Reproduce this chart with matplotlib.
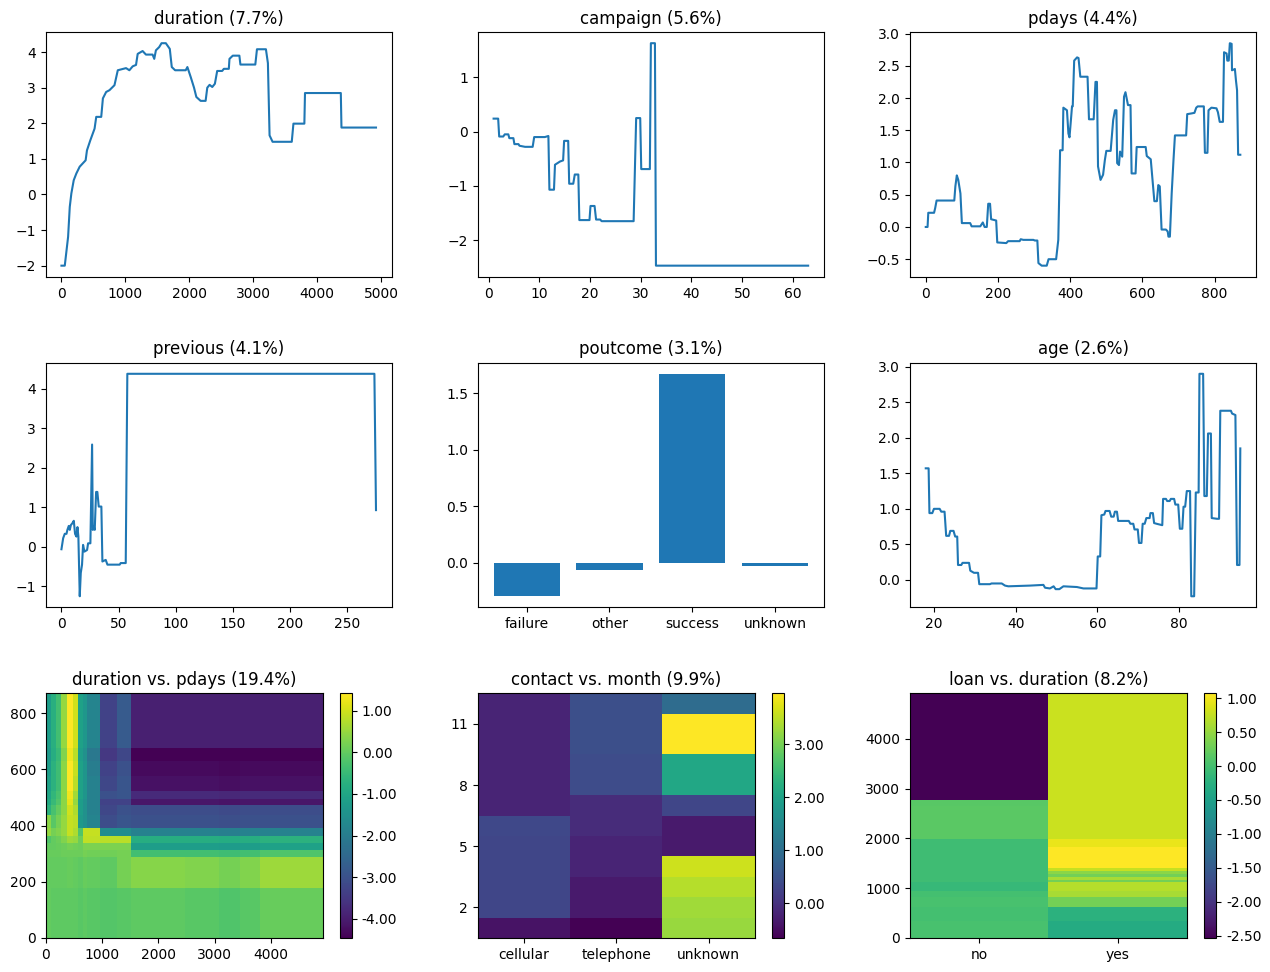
#Shape functions and pairwise interaction heatmaps for the bank marketing model.

import matplotlib
matplotlib.use("Agg")
import matplotlib.pyplot as plt
import numpy as np

# ---- single feature terms ----
dur_x = [0, 52, 104, 130, 155, 192, 233, 285, 378, 399, 451, 518, 544, 622, 648, 699, 751, 829, 881, 1010,
         1062, 1114, 1166, 1192, 1269, 1321, 1425, 1451, 1477, 1528, 1565, 1632, 1694, 1725, 1777, 1943, 1969,
         2021, 2073, 2109, 2176, 2254, 2280, 2316, 2358, 2399, 2435, 2513, 2539, 2617, 2627, 2679, 2782, 2798,
         3031, 3057, 3197, 3228, 3254, 3301, 3601, 3627, 3798, 3808, 4368, 4378, 4918]
dur_y = [-2.0, -2.0, -1.19, -0.35, 0.03, 0.4, 0.59, 0.78, 0.96, 1.24, 1.52, 1.85, 2.18, 2.18, 2.7, 2.88, 2.93,
         3.07, 3.49, 3.55, 3.49, 3.6, 3.64, 3.95, 4.03, 3.93, 3.93, 3.81, 4.05, 4.14, 4.25, 4.25, 4.09, 3.58, 3.49,
         3.49, 3.58, 3.3, 3.0, 2.74, 2.63, 2.63, 3.0, 3.08, 3.02, 3.11, 3.47, 3.47, 3.53, 3.53, 3.81, 3.9, 3.9,
         3.65, 3.65, 4.08, 4.08, 3.69, 1.66, 1.48, 1.48, 1.99, 1.99, 2.85, 2.85, 1.88, 1.88]

camp_x = [1, 1.9, 2.1, 2.9, 3.2, 3.9, 4.1, 4.9, 5.1, 5.9, 6.1, 7.2, 8.7, 9.0, 11.1, 11.8, 12.0, 12.9, 13.1, 14.1,
          14.7, 14.9, 15.7, 15.9, 16.7, 17.0, 17.7, 17.9, 19.9, 20.1, 20.9, 21.2, 22.0, 22.3, 28.6, 29.1, 29.9,
          30.1, 31.8, 32.0, 32.8, 33.0, 63]
camp_y = [0.24, 0.24, -0.09, -0.09, -0.05, -0.05, -0.12, -0.12, -0.23, -0.23, -0.26, -0.28, -0.28, -0.1, -0.1,
          -0.08, -1.07, -1.07, -0.61, -0.55, -0.53, -0.17, -0.17, -0.96, -0.96, -0.79, -0.79, -1.63, -1.63,
          -1.37, -1.37, -1.62, -1.62, -1.65, -1.65, 0.25, 0.25, -0.69, -0.69, 1.63, 1.63, -2.47, -2.47]

pdays_x = [0, 5, 7, 23, 26, 30, 79, 82, 86, 90, 96, 100, 123, 127, 151, 158, 163, 169, 173, 178,
           181, 195, 198, 223, 228, 260, 263, 270, 298, 302, 309, 312, 321, 335, 340, 361, 367, 372, 379, 381,
           391, 395, 398, 402, 405, 407, 411, 419, 423, 428, 448, 452, 465, 470, 474, 477, 484, 491, 496, 500,
           512, 519, 524, 528, 530, 535, 538, 544, 549, 553, 560, 567, 570, 581, 584, 609, 612, 623, 633, 640,
           644, 648, 653, 665, 670, 672, 676, 681, 686, 690, 721, 724, 735, 744, 749, 753, 770, 773, 780, 783,
           791, 805, 809, 814, 823, 826, 833, 835, 839, 842, 847, 848, 856, 859, 862, 865, 871]
pdays_y = [0.0, 0.0, 0.22, 0.22, 0.29, 0.41, 0.41, 0.63, 0.8, 0.73, 0.52, 0.06, 0.06, 0.01, 0.01, 0.07, 0.0, 0.0,
           0.36, 0.36, 0.12, 0.1, -0.24, -0.25, -0.22, -0.22, -0.19, -0.2, -0.2, -0.21, -0.21, -0.56, -0.6, -0.6,
           -0.5, -0.5, -0.2, 1.19, 1.19, 1.85, 1.81, 1.45, 1.39, 1.66, 1.87, 1.87, 2.58, 2.63, 2.62, 2.33, 2.33,
           1.67, 1.67, 2.25, 2.25, 0.94, 0.73, 0.81, 1.04, 1.18, 1.18, 1.66, 1.81, 1.81, 0.99, 0.96, 1.17, 1.09,
           2.02, 2.09, 1.89, 1.89, 0.83, 0.83, 1.24, 1.24, 1.1, 1.05, 0.4, 0.4, 0.65, 0.63, -0.04, -0.04, -0.07,
           -0.15, -0.15, 0.52, 1.04, 1.42, 1.42, 1.75, 1.76, 1.77, 1.85, 1.87, 1.87, 1.15, 1.15, 1.81, 1.85,
           1.84, 1.78, 1.63, 1.63, 2.71, 2.69, 2.58, 2.58, 2.85, 2.84, 2.43, 2.45, 2.27, 2.12, 1.12, 1.12]

prev_x = [0, 1.5, 2.9, 4.4, 5.2, 6.4, 7.3, 8.2, 9.6, 10.8, 11.9, 13.1, 14.0, 14.8, 16.0, 16.9, 18.0, 18.9, 20.1,
          22.4, 23.3, 25.3, 26.8, 27.4, 28.2, 29.1, 30.3, 31.4, 32.6, 34.9, 35.8, 38.7, 40.2, 50.9, 51.8, 56.2,
          57.6, 273.6, 275]
prev_y = [-0.06, 0.22, 0.33, 0.33, 0.43, 0.53, 0.43, 0.55, 0.6, 0.66, 0.33, 0.26, 0.5, 0.26, -1.25, -0.66, -0.45,
          0.05, -0.12, -0.08, 0.09, 0.09, 2.59, 0.43, 0.51, 0.43, 1.39, 1.39, 1.02, 1.02, -0.37, -0.33, -0.45,
          -0.45, -0.41, -0.41, 4.38, 4.38, 0.93]

pout_cats = ["failure", "other", "success", "unknown"]
pout_vals = [-0.295, -0.059, 1.674, -0.024]

age_x = [18, 18.7, 18.9, 19.6, 20, 21.4, 21.8, 22.6, 23.0, 23.7, 24.0, 24.8, 25.2, 25.7, 25.9, 26.7, 27.0, 28.6,
         28.9, 29.8, 30.8, 31.1, 33.7, 34.1, 36.6, 37.4, 38.2, 43.5, 46.8, 47.2, 48.4, 49.3, 49.8, 50.7, 51.7,
         55.0, 56.6, 59.8, 60.1, 60.7, 61.0, 61.7, 62.0, 63.0, 63.4, 64.0, 64.3, 64.8, 65.1, 67.7, 68.1, 68.8,
         69.1, 69.9, 70.2, 70.8, 71.1, 71.6, 72.0, 72.8, 73.0, 73.6, 73.9, 74.5, 75.9, 76.1, 76.8, 77.1, 77.7,
         78.0, 78.8, 79.1, 79.8, 80.2, 80.8, 81.1, 81.5, 81.9, 82.7, 83.0, 83.7, 84.1, 84.8, 85.0, 85.9, 86.2,
         86.8, 87.1, 87.8, 88.0, 89.3, 89.8, 90.1, 92.7, 93.0, 93.8, 94.2, 94.8, 95.0]
age_y = [1.57, 1.57, 0.94, 0.94, 1.0, 1.0, 0.96, 0.96, 0.62, 0.62, 0.69, 0.69, 0.61, 0.61, 0.21, 0.21, 0.24, 0.24,
         0.13, 0.1, 0.1, -0.06, -0.06, -0.05, -0.05, -0.08, -0.09, -0.08, -0.07, -0.11, -0.12, -0.09, -0.13,
         -0.13, -0.09, -0.1, -0.12, -0.12, 0.33, 0.33, 0.91, 0.92, 0.97, 0.97, 0.89, 0.89, 0.96, 0.96, 0.83,
         0.83, 0.79, 0.79, 0.71, 0.71, 0.52, 0.52, 0.79, 0.79, 0.87, 0.87, 0.94, 0.94, 0.8, 0.79, 0.77, 1.14,
         1.14, 1.11, 1.11, 1.14, 1.14, 1.06, 1.06, 0.72, 0.72, 1.03, 1.03, 1.25, 1.25, -0.23, -0.23, 1.23, 1.23,
         2.9, 2.9, 1.18, 1.18, 2.06, 2.06, 0.87, 0.86, 0.86, 2.38, 2.38, 2.34, 2.32, 0.21, 0.21, 1.85]

# ---- duration vs pdays (rows = pdays bins, bottom to top) ----
dp_x_edges = [0, 100, 190, 280, 380, 490, 580, 670, 730, 964, 1273, 1518, 2480, 3080, 3460, 3800, 4918]
dp_y_edges = [0, 177, 290, 314, 339, 364, 392, 436, 475, 493, 522, 575, 630, 675, 871]
dp_vals = [
    [0.0, -0.05, -0.05, -0.05, -0.05, -0.05, -0.1, -0.05, -0.1, -0.15, -0.1, -0.05, -0.1, -0.2, -0.1, 0.05],
    [0.0, 0.0, 0.0, 0.0, 0.05, 0.0, -0.05, 0.05, 0.0, -0.05, 0.2, 0.35, 0.3, 0.2, 0.3, 0.55],
    [0.05, 0.05, 0.05, 0.1, 0.1, 0.1, 0.1, 0.2, 0.15, 0.15, 0.2, -0.35, -0.35, -0.4, -0.35, -0.2],
    [0.0, 0.0, 0.05, 0.1, 0.2, 0.15, 0.1, 0.25, 0.25, 0.25, 0.25, -1.2, -1.2, -1.25, -1.2, -1.1],
    [-0.2, 0.0, 0.1, 0.3, 0.55, 0.5, 0.1, 0.85, 0.85, 0.8, 0.8, -0.8, -0.8, -0.85, -0.8, -0.7],
    [0.5, 0.2, 0.3, 0.5, 0.9, 0.7, -0.2, 0.9, 0.9, -1.6, -1.6, -1.9, -1.9, -1.95, -1.9, -1.85],
    [0.4, -0.1, 0.2, 0.5, 0.9, 0.8, -1.3, -1.5, -1.8, -3.1, -2.9, -3.0, -3.0, -3.05, -3.0, -3.0],
    [-0.7, -0.3, 0.0, 0.4, 1.0, 0.7, -1.2, -1.5, -1.9, -3.2, -3.0, -3.1, -3.1, -3.15, -3.1, -3.1],
    [-0.9, -0.5, -0.2, 0.4, 1.2, 0.5, -1.2, -1.5, -1.9, -3.3, -3.3, -4.1, -4.1, -4.15, -4.1, -4.1],
    [-1.0, -0.6, -0.3, 0.4, 1.3, 0.6, -1.1, -1.4, -1.9, -3.0, -2.9, -3.75, -3.75, -3.8, -3.75, -3.75],
    [-1.1, -0.7, -0.4, 0.4, 1.4, 0.8, -1.1, -1.4, -1.9, -3.2, -2.9, -4.2, -4.2, -4.25, -4.2, -4.2],
    [-1.2, -0.7, -0.4, 0.4, 1.4, 0.9, -1.1, -1.4, -2.0, -3.3, -3.0, -4.3, -4.3, -4.35, -4.3, -4.3],
    [-1.3, -0.8, -0.5, 0.3, 1.3, 0.8, -1.2, -1.5, -2.1, -3.5, -3.2, -4.46, -4.46, -4.46, -4.46, -4.46],
    [-1.2, -0.75, -0.35, 0.5, 1.42, 1.0, -1.1, -1.35, -1.8, -3.3, -2.8, -3.95, -3.95, -3.95, -3.95, -3.95],
]

# ---- contact vs month (rows = month 1..12) ----
contact_cats = ["cellular", "telephone", "unknown"]
months = list(range(1, 13))
cm_vals = [
    [-0.43, -0.66, 3.25],
    [0.3, -0.35, 3.3],
    [0.3, -0.35, 3.45],
    [0.3, -0.2, 3.6],
    [0.3, -0.2, -0.35],
    [0.35, -0.1, -0.35],
    [-0.2, -0.1, 0.3],
    [-0.2, 0.4, 2.1],
    [-0.2, 0.4, 2.1],
    [-0.2, 0.45, 3.96],
    [-0.2, 0.45, 3.96],
    [-0.2, 0.45, 0.95],
]

# ---- loan vs duration (rows = duration bins) ----
loan_cats = ["no", "yes"]
ld_y_edges = [0, 350, 630, 820, 950, 1125, 1170, 1230, 1290, 1350, 1400, 1825, 1980, 2660, 2778, 4918]
ld_no = [0.02, 0.0, 0.02, 0.0, -0.12, -0.05, -0.05, -0.05, -0.05, -0.05, -0.05, -0.05, 0.15, 0.13, -2.53]
ld_yes = [-0.33, -0.23, 0.31, 0.6, 0.67, 0.3, 0.6, 0.3, 0.45, 0.75, 1.07, 0.95, 0.78, 0.78, 0.78]


fig, axes = plt.subplots(3, 3, figsize=(12.7, 9.72))
fig.subplots_adjust(left=0.036, right=0.989, top=0.967, bottom=0.035, wspace=0.249, hspace=0.351)

axes[0, 0].plot(dur_x, dur_y)
axes[0, 0].set_title("duration (7.7%)")
axes[0, 1].plot(camp_x, camp_y)
axes[0, 1].set_title("campaign (5.6%)")
axes[0, 2].plot(pdays_x, pdays_y)
axes[0, 2].set_title("pdays (4.4%)")
axes[1, 0].plot(prev_x, prev_y)
axes[1, 0].set_title("previous (4.1%)")
axes[1, 1].bar(pout_cats, pout_vals)
axes[1, 1].set_title("poutcome (3.1%)")
axes[1, 2].plot(age_x, age_y)
axes[1, 2].set_title("age (2.6%)")

# interactions
ax = axes[2, 0]
im = ax.pcolormesh(dp_x_edges, dp_y_edges, np.array(dp_vals), cmap="viridis")
ax.set_title("duration vs. pdays (19.4%)")
fig.colorbar(im, ax=ax, format="%.2f")

ax = axes[2, 1]
im = ax.pcolormesh(np.arange(len(contact_cats)), months, np.array(cm_vals), cmap="viridis", shading="nearest")
ax.set_xticks(range(len(contact_cats)))
ax.set_xticklabels(contact_cats)
ax.set_yticks([2, 5, 8, 11])
ax.set_title("contact vs. month (9.9%)")
fig.colorbar(im, ax=ax, format="%.2f")

ax = axes[2, 2]
loan_grid = np.column_stack([ld_no, ld_yes])
im = ax.pcolormesh([-0.5, 0.5, 1.5], ld_y_edges, loan_grid, cmap="viridis")
ax.set_xticks(range(len(loan_cats)))
ax.set_xticklabels(loan_cats)
ax.set_title("loan vs. duration (8.2%)")
fig.colorbar(im, ax=ax, format="%.2f")

plt.savefig("out.png", dpi=100)
